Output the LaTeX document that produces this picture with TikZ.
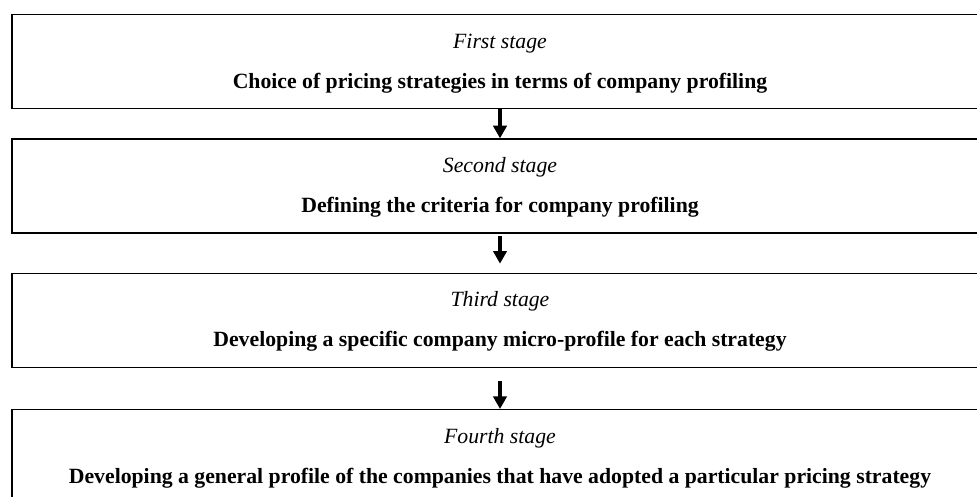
\documentclass[tikz,border=0pt]{standalone}
\usepackage{fontspec}
\setmainfont{Liberation Serif}
\usetikzlibrary{arrows.meta,positioning,calc}

\tikzset{
  stagebox/.style={draw=black, line width=1pt, minimum width=732pt,
    minimum height=70.5pt, inner sep=0pt},
  stagettl/.style={font=\fontsize{16.3}{19}\selectfont\itshape, anchor=base, inner sep=0pt},
  stagetask/.style={font=\fontsize{16.3}{19}\selectfont\bfseries, anchor=base, inner sep=0pt},
  stepflow/.style={-{Triangle[length=9.5pt,width=10pt]}, line width=3.4pt},
}

\begin{document}
\begin{tikzpicture}[x=1pt,y=-1pt]
  \useasboundingbox (0,0) rectangle (732.75,372);
  \clip (0,0) rectangle (732.75,372);
  % the four stages, stacked
  \node[stagebox, anchor=north] (b1) at (375,10.5) {};
  \node[stagebox, below=21.75pt of b1] (b2) {};
  \node[stagebox, below=29.25pt of b2] (b3) {};
  \node[stagebox, below=30.75pt of b3] (b4) {};
  \foreach \b/\ttl/\task in {
      b1/First stage/{Choice of pricing strategies in terms of company profiling},
      b2/Second stage/{Defining the criteria for company profiling},
      b3/Third stage/{Developing a specific company micro-profile for each strategy},
      b4/Fourth stage/{Developing a general profile of the companies that have adopted a particular pricing strategy}} {
    \node[stagettl] (\b-ttl) at ($(\b.north)+(0,25.5)$) {\ttl};
    \node[stagetask] (\b-task) at ($(\b.north)+(0,55.5)$) {\task};
  }
  % arrows between stages
  \draw[stepflow] (b1.south) -- (b2.north);
  \draw[stepflow, shorten <=1.5pt, shorten >=6.75pt] (b2.south) -- (b3.north);
  \draw[stepflow, shorten <=9.75pt] (b3.south) -- (b4.north);
\end{tikzpicture}
\end{document}
